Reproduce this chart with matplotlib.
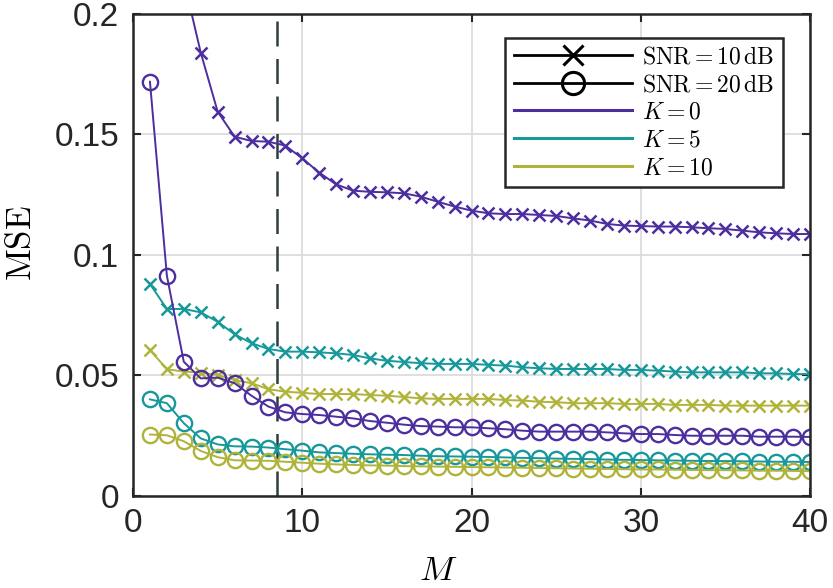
"""MSE versus M for several K at two SNR levels."""
import matplotlib
matplotlib.use("Agg")
import matplotlib.pyplot as plt
from matplotlib.lines import Line2D

plt.rcParams["mathtext.fontset"] = "cm"
plt.rcParams["font.family"] = ["Liberation Sans", "DejaVu Sans"]

M = list(range(1, 41))

# SNR = 10 dB
mse_k0_10 = [0.320, 0.262, 0.214, 0.184, 0.1595, 0.1491, 0.1473, 0.1470, 0.1454, 0.1401,
             0.1342, 0.1293, 0.1267, 0.1262, 0.1260, 0.1256, 0.1242, 0.1221, 0.1201, 0.1184,
             0.1173, 0.1170, 0.1170, 0.1166, 0.1162, 0.1152, 0.1143, 0.1129, 0.1122, 0.1120,
             0.1118, 0.1118, 0.1115, 0.1111, 0.1108, 0.1101, 0.1094, 0.1090, 0.1087, 0.1087]
mse_k5_10 = [0.0880, 0.0776, 0.0776, 0.0762, 0.0723, 0.0671, 0.0634, 0.0610, 0.0599, 0.0599,
             0.0596, 0.0592, 0.0585, 0.0571, 0.0561, 0.0556, 0.0551, 0.0548, 0.0548, 0.0548,
             0.0544, 0.0541, 0.0534, 0.0530, 0.0527, 0.0527, 0.0527, 0.0527, 0.0523, 0.0523,
             0.0520, 0.0516, 0.0513, 0.0513, 0.0513, 0.0513, 0.0509, 0.0509, 0.0506, 0.0506]
mse_k10_10 = [0.0606, 0.0526, 0.0516, 0.0512, 0.0502, 0.0481, 0.0468, 0.0443, 0.0433, 0.0428,
              0.0423, 0.0423, 0.0423, 0.0419, 0.0416, 0.0411, 0.0405, 0.0403, 0.0403, 0.0403,
              0.0403, 0.0398, 0.0396, 0.0391, 0.0389, 0.0385, 0.0385, 0.0385, 0.0382, 0.0382,
              0.0382, 0.0378, 0.0378, 0.0378, 0.0375, 0.0375, 0.0375, 0.0375, 0.0375, 0.0375]

# SNR = 20 dB
mse_k0_20 = [0.1719, 0.0914, 0.0557, 0.0488, 0.0491, 0.0468, 0.0416, 0.0371, 0.0347, 0.0340,
             0.0336, 0.0329, 0.0322, 0.0311, 0.0304, 0.0296, 0.0290, 0.0288, 0.0285, 0.0285,
             0.0281, 0.0277, 0.0271, 0.0267, 0.0267, 0.0267, 0.0267, 0.0264, 0.0260, 0.0257,
             0.0257, 0.0253, 0.0250, 0.0250, 0.0250, 0.0250, 0.0246, 0.0246, 0.0246, 0.0245]
mse_k5_20 = [0.0401, 0.0385, 0.0302, 0.0239, 0.0214, 0.0206, 0.0205, 0.0201, 0.0194, 0.0188,
             0.0181, 0.0178, 0.0175, 0.0173, 0.0171, 0.0170, 0.0167, 0.0165, 0.0164, 0.0163,
             0.0162, 0.0160, 0.0158, 0.0157, 0.0155, 0.0154, 0.0153, 0.0151, 0.0150, 0.0149,
             0.0148, 0.0147, 0.0146, 0.0145, 0.0145, 0.0144, 0.0143, 0.0142, 0.0142, 0.0141]
mse_k10_20 = [0.0255, 0.0252, 0.0227, 0.0187, 0.0161, 0.0148, 0.0147, 0.0146, 0.0142, 0.0138,
              0.0134, 0.0131, 0.0129, 0.0127, 0.0126, 0.0124, 0.0123, 0.0122, 0.0121, 0.0120,
              0.0119, 0.0118, 0.0117, 0.0116, 0.0115, 0.0114, 0.0113, 0.0112, 0.0111, 0.0110,
              0.0110, 0.0109, 0.0108, 0.0107, 0.0107, 0.0106, 0.0105, 0.0105, 0.0104, 0.0103]

m_threshold = 8.5

colors = {"K0": "#4c2e9e", "K5": "#17989a", "K10": "#b0b33a"}

fig = plt.figure(figsize=(8.33, 5.88), dpi=100)
ax = fig.add_axes([0.1597, 0.1565, 0.8127, 0.8197])

ax.grid(True, color="#dcdcdc", linewidth=1.3)
ax.set_axisbelow(True)

ax.axvline(m_threshold, color="#2f3d3d", linewidth=1.8, dashes=(10, 5), zorder=1.5)

lw = 1.4
for y, c in ((mse_k0_10, colors["K0"]), (mse_k5_10, colors["K5"]), (mse_k10_10, colors["K10"])):
    ax.plot(M, y, color=c, linewidth=lw, marker="x", markersize=9, markeredgewidth=1.8)
for y, c in ((mse_k0_20, colors["K0"]), (mse_k5_20, colors["K5"]), (mse_k10_20, colors["K10"])):
    ax.plot(M, y, color=c, linewidth=lw, marker="o", markersize=11, markerfacecolor="none",
            markeredgewidth=1.7)

ax.set_xlim(0, 40)
ax.set_ylim(0, 0.2)
ax.set_xticks([0, 10, 20, 30, 40])
ax.set_yticks([0, 0.05, 0.1, 0.15, 0.2])
ax.set_yticklabels(["0", "0.05", "0.1", "0.15", "0.2"])
ax.tick_params(direction="in", length=6, width=1.5, labelsize=24, pad=10,
               top=True, right=True, colors="#262626")
ax.tick_params(axis="x", pad=9)
for spine in ax.spines.values():
    spine.set_linewidth(1.8)
    spine.set_color("#262626")

ax.set_xlabel(r"$M$", fontsize=25)
ax.set_ylabel(r"$\mathrm{MSE}$", fontsize=25)
ax.xaxis.set_label_coords(0.45, -0.12)
ax.yaxis.set_label_coords(-0.14, 0.525)

handles = [
    Line2D([], [], color="black", linewidth=2.0, marker="x", markersize=14, markeredgewidth=2.2),
    Line2D([], [], color="black", linewidth=2.0, marker="o", markersize=16,
           markerfacecolor="none", markeredgewidth=2.2),
    Line2D([], [], color=colors["K0"], linewidth=2.2),
    Line2D([], [], color=colors["K5"], linewidth=2.2),
    Line2D([], [], color=colors["K10"], linewidth=2.2),
]
labels = [r"$\mathrm{SNR} = 10\,\mathrm{dB}$", r"$\mathrm{SNR} = 20\,\mathrm{dB}$",
          r"$K = 0$", r"$K = 5$", r"$K = 10$"]
leg = ax.legend(handles, labels, loc="upper right", bbox_to_anchor=(0.960, 0.950),
                fontsize=17, handlelength=5.0, handletextpad=0.45, labelspacing=0.24,
                borderpad=0.35, borderaxespad=0, fancybox=False, framealpha=1,
                edgecolor="#262626")
leg.get_frame().set_linewidth(1.8)

fig.savefig("out.png", dpi=100)
plt.close(fig)
